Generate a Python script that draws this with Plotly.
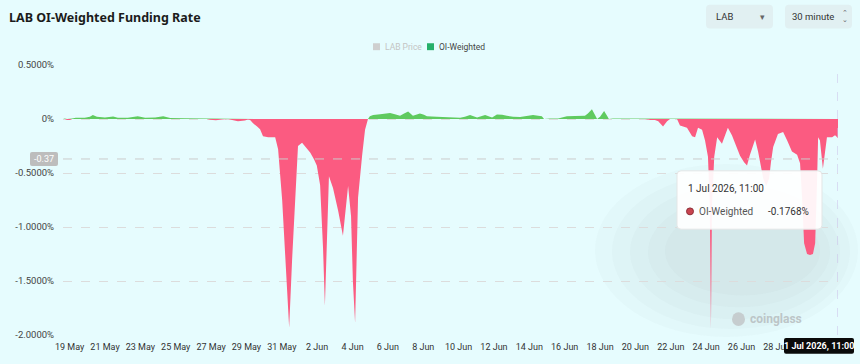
import plotly.graph_objects as go

# ---------------- data ----------------
time_points = [
    "2026-05-18 15:00", "2026-05-18 17:30", "2026-05-18 20:30", "2026-05-19 00:30", "2026-05-19 03:00",
    "2026-05-19 08:30", "2026-05-19 20:30", "2026-05-20 03:30", "2026-05-20 07:30", "2026-05-20 13:00",
    "2026-05-21 00:00", "2026-05-21 11:00", "2026-05-21 17:30", "2026-05-22 07:00", "2026-05-22 20:30",
    "2026-05-23 06:30", "2026-05-23 20:00", "2026-05-24 07:00", "2026-05-24 16:30", "2026-05-25 12:30",
    "2026-05-26 09:00", "2026-05-26 18:30", "2026-05-26 22:30", "2026-05-27 06:30", "2026-05-27 15:00",
    "2026-05-27 23:00", "2026-05-28 04:30", "2026-05-28 12:30", "2026-05-28 22:00", "2026-05-29 02:00",
    "2026-05-29 05:00", "2026-05-29 09:00", "2026-05-29 14:30", "2026-05-29 18:30", "2026-05-29 22:30",
    "2026-05-30 05:30", "2026-05-30 15:00", "2026-05-30 19:00", "2026-05-31 00:30", "2026-05-31 05:30",
    "2026-05-31 10:00", "2026-05-31 14:00", "2026-05-31 18:00", "2026-05-31 22:00", "2026-06-01 03:30",
    "2026-06-01 09:00", "2026-06-01 14:30", "2026-06-01 19:30", "2026-06-01 23:30", "2026-06-02 04:00",
    "2026-06-02 08:00", "2026-06-02 10:30", "2026-06-02 13:30", "2026-06-02 16:00", "2026-06-02 21:30",
    "2026-06-03 04:30", "2026-06-03 11:00", "2026-06-03 15:00", "2026-06-03 18:00", "2026-06-03 22:00",
    "2026-06-04 00:30", "2026-06-04 03:30", "2026-06-04 06:00", "2026-06-04 07:30", "2026-06-04 13:00",
    "2026-06-04 17:00", "2026-06-04 21:00", "2026-06-04 23:30", "2026-06-05 04:00", "2026-06-05 13:30",
    "2026-06-06 03:00", "2026-06-06 09:30", "2026-06-06 16:30", "2026-06-06 22:00", "2026-06-07 03:30",
    "2026-06-07 10:00", "2026-06-07 15:30", "2026-06-07 19:30", "2026-06-08 01:00", "2026-06-08 05:00",
    "2026-06-08 18:30", "2026-06-09 05:30", "2026-06-09 16:30", "2026-06-10 02:00", "2026-06-10 08:30",
    "2026-06-10 15:30", "2026-06-11 01:00", "2026-06-11 06:30", "2026-06-11 12:00", "2026-06-11 18:30",
    "2026-06-11 21:30", "2026-06-12 04:00", "2026-06-12 11:00", "2026-06-12 17:30", "2026-06-13 02:00",
    "2026-06-13 11:30", "2026-06-13 21:00", "2026-06-14 05:00", "2026-06-14 12:00", "2026-06-14 17:00",
    "2026-06-14 20:00", "2026-06-15 04:00", "2026-06-15 15:00", "2026-06-15 20:30", "2026-06-16 03:00",
    "2026-06-16 14:00", "2026-06-16 21:00", "2026-06-17 03:30", "2026-06-17 07:30", "2026-06-17 13:00",
    "2026-06-17 17:00", "2026-06-17 20:00", "2026-06-18 00:00", "2026-06-18 05:30", "2026-06-18 09:30",
    "2026-06-18 12:00", "2026-06-18 17:30", "2026-06-19 10:00", "2026-06-19 23:30", "2026-06-20 06:30",
    "2026-06-20 13:00", "2026-06-20 20:00", "2026-06-21 02:30", "2026-06-21 07:00", "2026-06-21 13:30",
    "2026-06-21 19:00", "2026-06-21 23:00", "2026-06-22 08:30", "2026-06-22 12:30", "2026-06-22 22:00",
    "2026-06-23 05:00", "2026-06-23 09:00", "2026-06-23 13:00", "2026-06-23 18:30", "2026-06-23 22:30",
    "2026-06-24 02:30", "2026-06-24 05:00", "2026-06-24 06:30", "2026-06-24 08:00", "2026-06-24 11:00",
    "2026-06-24 15:00", "2026-06-24 21:30", "2026-06-25 01:30", "2026-06-25 05:30", "2026-06-25 11:00",
    "2026-06-25 16:30", "2026-06-25 22:00", "2026-06-26 03:30", "2026-06-26 07:30", "2026-06-26 11:30",
    "2026-06-26 14:30", "2026-06-26 18:30", "2026-06-26 22:30", "2026-06-27 01:00", "2026-06-27 05:30",
    "2026-06-27 09:30", "2026-06-27 13:30", "2026-06-27 16:00", "2026-06-27 19:00", "2026-06-28 01:30",
    "2026-06-28 08:30", "2026-06-28 14:00", "2026-06-28 20:30", "2026-06-29 03:30", "2026-06-29 07:30",
    "2026-06-29 10:00", "2026-06-29 13:00", "2026-06-29 17:00", "2026-06-29 21:00", "2026-06-30 01:00",
    "2026-06-30 04:00", "2026-06-30 06:30", "2026-06-30 08:00", "2026-06-30 10:30", "2026-06-30 14:30",
    "2026-06-30 17:30", "2026-06-30 20:00", "2026-07-01 03:00", "2026-07-01 07:00", "2026-07-01 11:00",
]
oi_weighted_pct = [
    0.0, 0.005, -0.01, -0.01, 0.005,
    0.012, 0.012, 0.02, 0.037, 0.02,
    0.015, 0.022, 0.012, 0.012, 0.025,
    0.012, 0.015, 0.025, 0.01, 0.008,
    0.006, 0.004, -0.008, -0.012, -0.005,
    0.0, -0.01, -0.02, -0.015, -0.005,
    -0.01, -0.04, -0.07, -0.095, -0.16,
    -0.17, -0.17, -0.28, -0.75, -1.4,
    -1.93, -1.3, -0.73, -0.25, -0.22,
    -0.26, -0.31, -0.37, -0.43, -0.61,
    -1.2, -1.73, -1.0, -0.53, -0.64,
    -0.85, -1.08, -0.82, -0.62, -0.9,
    -1.5, -1.89, -1.2, -0.73, -0.34,
    -0.1, 0.0, 0.025, 0.036, 0.045,
    0.055, 0.045, 0.03, 0.05, 0.07,
    0.03, 0.045, 0.05, 0.04, 0.025,
    0.02, 0.018, 0.02, 0.012, 0.02,
    0.036, 0.015, 0.025, 0.036, 0.02,
    0.015, 0.042, 0.04, 0.03, 0.02,
    0.018, 0.03, 0.036, 0.03, 0.025,
    0.0, 0.005, 0.004, 0.012, 0.025,
    0.028, 0.03, 0.03, 0.05, 0.09,
    0.04, 0.0, 0.02, 0.075, 0.03,
    0.0, 0.005, 0.005, 0.005, 0.003,
    0.0, -0.01, -0.01, -0.02, -0.07,
    -0.02, 0.0, 0.0, -0.06, -0.08,
    -0.16, -0.17, -0.08, -0.1, -0.2,
    -0.35, -0.8, -1.94, -0.8, -0.35,
    -0.17, -0.23, -0.15, -0.08, -0.15,
    -0.25, -0.34, -0.4, -0.43, -0.33,
    -0.26, -0.19, -0.3, -0.38, -0.55,
    -0.62, -0.55, -0.4, -0.26, -0.14,
    -0.12, -0.2, -0.3, -0.33, -0.41,
    -0.7, -1.15, -1.25, -1.26, -1.25,
    -1.15, -0.6, -0.17, -0.2, -0.46,
    -0.3, -0.17, -0.17, -0.15, -0.1768,
]
y_tick_values = [-2.0, -1.5, -1.0, -0.5, 0.0, 0.5]
y_tick_labels = ["-2.0000%", "-1.5000%", "-1.0000%", "-0.5000%", "0%", "0.5000%"]
x_tick_dates = ["2026-05-19", "2026-05-21", "2026-05-23", "2026-05-25", "2026-05-27", "2026-05-29",
                "2026-05-31", "2026-06-02", "2026-06-04", "2026-06-06", "2026-06-08", "2026-06-10",
                "2026-06-12", "2026-06-14", "2026-06-16", "2026-06-18", "2026-06-20", "2026-06-22",
                "2026-06-24", "2026-06-26", "2026-06-28"]
x_tick_labels = ["19 May", "21 May", "23 May", "25 May", "27 May", "29 May", "31 May", "2 Jun",
                 "4 Jun", "6 Jun", "8 Jun", "10 Jun", "12 Jun", "14 Jun", "16 Jun", "18 Jun",
                 "20 Jun", "22 Jun", "24 Jun", "26 Jun", "28 Jun"]
hover_value = -0.1768
hover_label = "1 Jul 2026, 11:00"
crosshair_value = -0.37

# ---------------- styling ----------------
GREEN = "#5fca5f"
RED = "#fb5b81"
BG = "#e6fcfe"
FONT = "Roboto"

W_FIG, H_FIG = 860, 364
L, R, T, B = 63, 22, 65, 26
PW, PH = W_FIG - L - R, H_FIG - T - B


def fx(px):
    return (px - L) / PW


def fy(py):
    return (T + PH - py) / PH


def P(px, py):
    return f"{fx(px):.5f},{fy(py):.5f}"


def rrect(x0, y0, x1, y1, r, fill, line="rgba(0,0,0,0)", lw=1, layer="above"):
    path = (f"M{P(x0 + r, y0)} L{P(x1 - r, y0)} Q{P(x1, y0)} {P(x1, y0 + r)} "
            f"L{P(x1, y1 - r)} Q{P(x1, y1)} {P(x1 - r, y1)} L{P(x0 + r, y1)} "
            f"Q{P(x0, y1)} {P(x0, y1 - r)} L{P(x0, y0 + r)} Q{P(x0, y0)} {P(x0 + r, y0)} Z")
    return dict(type="path", xref="paper", yref="paper", path=path, fillcolor=fill,
                line=dict(color=line, width=lw), layer=layer)


def txt(px, py, text, size=10, color="#333", xanchor="left", family=FONT):
    return dict(xref="paper", yref="paper", x=fx(px), y=fy(py), text=text, showarrow=False,
                xanchor=xanchor, yanchor="middle", font=dict(size=size, color=color, family=family))


pos = [v if v > 0 else 0 for v in oi_weighted_pct]
neg = [v if v < 0 else 0 for v in oi_weighted_pct]

fig = go.Figure()
fig.add_trace(go.Scatter(x=time_points, y=pos, mode="lines", line=dict(width=0, color=GREEN),
                         fill="tozeroy", fillcolor=GREEN, hoverinfo="skip"))
fig.add_trace(go.Scatter(x=time_points, y=neg, mode="lines", line=dict(width=0, color=RED),
                         fill="tozeroy", fillcolor=RED, hoverinfo="skip"))

shapes = []
# soft tooltip glow
for (x0, y0, x1, y1) in [(595, 165, 858, 340), (612, 175, 850, 332), (630, 186, 840, 322),
                         (648, 198, 830, 310), (665, 208, 820, 298)]:
    shapes.append(dict(type="circle", xref="paper", yref="paper", x0=fx(x0), x1=fx(x1),
                       y0=fy(y1), y1=fy(y0), fillcolor="rgba(120,120,120,0.028)",
                       line=dict(width=0), layer="below"))
# crosshair lines
shapes.append(dict(type="line", xref="paper", yref="y", x0=0, x1=1, y0=crosshair_value,
                   y1=crosshair_value, line=dict(color="#cbcbcb", width=1, dash="dash")))
shapes.append(dict(type="line", xref="x", yref="paper", x0=time_points[-1], x1=time_points[-1],
                   y0=0, y1=1, line=dict(color="#cbbfe8", width=1, dash="dash")))
# y crosshair label box
shapes.append(rrect(30, 153, 58, 167, 2, "#bdbdbd"))
# tooltip box
shapes.append(rrect(677, 172, 822, 231, 4, "rgba(255,255,255,0.93)", "#e3e6e6"))
shapes.append(dict(type="circle", xref="paper", yref="paper", x0=fx(686.5), x1=fx(693.5),
                   y0=fy(216.5), y1=fy(209.5), fillcolor="#c8444f", line=dict(color="#8e2d36", width=1)))
# x crosshair label
shapes.append(rrect(784, 341, 854, 357, 2, "#0a0a0a"))
# legend markers
shapes.append(dict(type="rect", xref="paper", yref="paper", x0=fx(373), x1=fx(380), y0=fy(50), y1=fy(43),
                   fillcolor="#cfcfcf", line=dict(width=0)))
shapes.append(dict(type="rect", xref="paper", yref="paper", x0=fx(427), x1=fx(434), y0=fy(50), y1=fy(43),
                   fillcolor="#26b06a", line=dict(width=0)))
# top-right selectors
shapes.append(rrect(706, 4, 773, 28, 4, "rgba(222,232,234,0.6)"))
shapes.append(rrect(785, 4, 852, 28, 4, "rgba(222,232,234,0.6)"))
# watermark logo
shapes.append(dict(type="circle", xref="paper", yref="paper", x0=fx(732), x1=fx(745), y0=fy(329), y1=fy(315),
                   fillcolor="#c6cdcf", line=dict(width=0), layer="below"))

annotations = [
    txt(7, 17, "<b>LAB OI-Weighted Funding Rate</b>", 12.5, "#1b1b1b", family="Noto Sans"),
    txt(383, 46.5, "LAB Price", 8.5, "#c4c4c4"),
    txt(437, 46.5, "OI-Weighted", 8.5, "#444"),
    txt(714, 16, "LAB", 9.5, "#333"),
    txt(762, 16.5, "▾", 9, "#666", xanchor="center"),
    txt(790, 16, "30 minute", 9.5, "#333"),
    txt(845, 12.5, "⌃", 7, "#666", xanchor="center", family="DejaVu Sans"),
    txt(845, 19.5, "⌄", 7, "#666", xanchor="center", family="DejaVu Sans"),
    txt(44, 160, "-0.37", 9, "#ffffff", xanchor="center"),
    txt(686, 190, hover_label, 10, "#333"),
    txt(697, 213, "OI-Weighted", 10, "#555"),
    txt(811, 213, f"{hover_value:.4f}%", 10, "#333", xanchor="right"),
    txt(819, 349, f"<b>{hover_label}</b>", 9, "#ffffff", xanchor="center"),
    txt(748, 322, "<b>coinglass</b>", 12, "#bcc5c7"),
]

fig.update_layout(
    width=W_FIG, height=H_FIG, autosize=False,
    margin=dict(l=L, r=R, t=T, b=B, pad=0),
    paper_bgcolor=BG, plot_bgcolor="rgba(0,0,0,0)",
    showlegend=False,
    font=dict(family=FONT, size=10, color="#444"),
    xaxis=dict(type="date", range=[time_points[0], time_points[-1]],
               tickmode="array", tickvals=x_tick_dates, ticktext=x_tick_labels,
               showgrid=False, zeroline=False, showline=False,
               ticks="outside", ticklen=3, tickcolor="rgba(0,0,0,0)",
               tickfont=dict(size=9, color="#333", family=FONT)),
    yaxis=dict(range=[-2.0, 0.5], tickmode="array", tickvals=y_tick_values, ticktext=y_tick_labels,
               showgrid=True, gridcolor="#dcdcdc", griddash="dash", gridwidth=1,
               zeroline=False, showline=False,
               ticks="outside", ticklen=6, tickcolor="rgba(0,0,0,0)",
               tickfont=dict(size=9.5, color="#444", family=FONT)),
    shapes=shapes,
    annotations=annotations,
)

fig.write_html("out.html")
